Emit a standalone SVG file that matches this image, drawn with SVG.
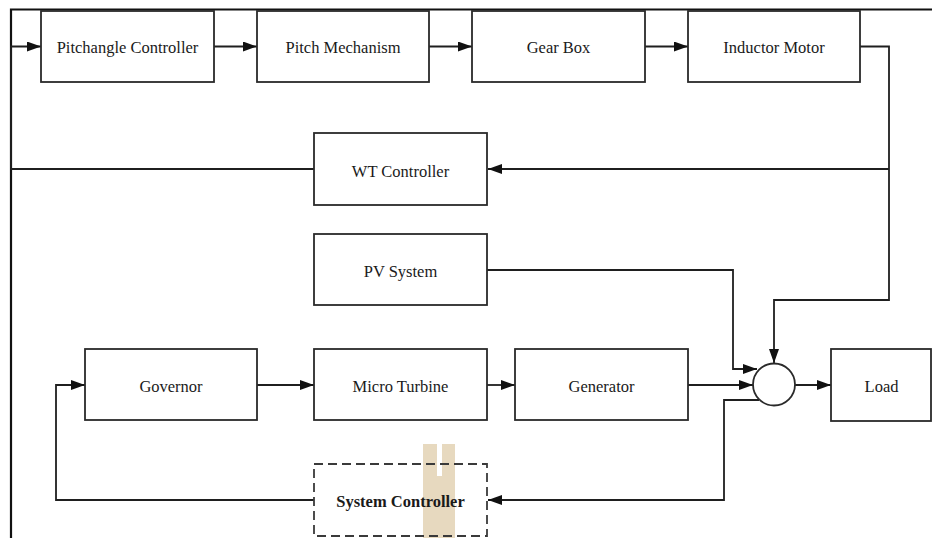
<svg xmlns="http://www.w3.org/2000/svg" width="932" height="538" viewBox="0 0 932 538">
  <style>
    .box { fill: #fff; stroke: #2a2a2a; stroke-width: 1.8; }
    .dash { fill: none; stroke: #3a3a3a; stroke-width: 1.8; stroke-dasharray: 9 5; }
    .lbl { font-family: "Liberation Serif", "Times New Roman", serif; font-size: 16.5px; fill: #1a1a1a; text-anchor: middle; }
    .bold { font-weight: bold; }
    .wire { fill: none; stroke: #1f1f1f; stroke-width: 1.8; }
    .frame { fill: none; stroke: #111; stroke-width: 2.2; }
  </style>
  <defs>
    <marker id="arrow" markerUnits="userSpaceOnUse" markerWidth="15" markerHeight="11" refX="14" refY="5" orient="auto">
      <path d="M0,0 L14,5 L0,10 Z" fill="#111"/>
    </marker>
  </defs>

  <rect width="932" height="538" fill="#fff"/>

  <!-- outer frame: top and left edges -->
  <path class="frame" d="M932,9.5 H11 V538"/>

  <!-- background stamp behind the system controller -->
  <g id="stamp" fill="#e7d9bf">
    <path d="M423,444 H437 V476 H442 V444 H455 V538 H423 Z"/>
  </g>

  <!-- connectors -->
  <g id="connectors">
    <path class="wire" d="M314,169 H11 V46.5 H41" marker-end="url(#arrow)"/>
    <path class="wire" d="M214,46.5 H257" marker-end="url(#arrow)"/>
    <path class="wire" d="M429,46.5 H472" marker-end="url(#arrow)"/>
    <path class="wire" d="M645,46.5 H688" marker-end="url(#arrow)"/>
    <path class="wire" d="M860,46.5 H889 V300 H774 V363" marker-end="url(#arrow)"/>
    <path class="wire" d="M889,169 H488" marker-end="url(#arrow)"/>
    <path class="wire" d="M487,270 H733 V369 H757" marker-end="url(#arrow)"/>
    <path class="wire" d="M257,385 H314" marker-end="url(#arrow)"/>
    <path class="wire" d="M487,385 H515" marker-end="url(#arrow)"/>
    <path class="wire" d="M688,385 H753" marker-end="url(#arrow)"/>
    <path class="wire" d="M795,385 H831" marker-end="url(#arrow)"/>
    <path class="wire" d="M759,400 H724 V500 H488" marker-end="url(#arrow)"/>
    <path class="wire" d="M314,500 H56 V385 H85" marker-end="url(#arrow)"/>
  </g>

  <g id="pitchangle-controller">
    <rect class="box" x="41" y="11" width="173" height="71"/>
    <text class="lbl" x="127.5" y="53">Pitchangle Controller</text>
  </g>
  <g id="pitch-mechanism">
    <rect class="box" x="257" y="11" width="172" height="71"/>
    <text class="lbl" x="343" y="53">Pitch Mechanism</text>
  </g>
  <g id="gear-box">
    <rect class="box" x="472" y="11" width="173" height="71"/>
    <text class="lbl" x="558.5" y="53">Gear Box</text>
  </g>
  <g id="inductor-motor">
    <rect class="box" x="688" y="11" width="172" height="71"/>
    <text class="lbl" x="774" y="53">Inductor Motor</text>
  </g>
  <g id="wt-controller">
    <rect class="box" x="314" y="133" width="173" height="72"/>
    <text class="lbl" x="400.5" y="177">WT Controller</text>
  </g>
  <g id="pv-system">
    <rect class="box" x="314" y="234" width="173" height="71"/>
    <text class="lbl" x="400.5" y="277">PV System</text>
  </g>
  <g id="governor">
    <rect class="box" x="85" y="349" width="172" height="71"/>
    <text class="lbl" x="171" y="392">Governor</text>
  </g>
  <g id="micro-turbine">
    <rect class="box" x="314" y="349" width="173" height="71"/>
    <text class="lbl" x="400.5" y="392">Micro Turbine</text>
  </g>
  <g id="generator">
    <rect class="box" x="515" y="349" width="173" height="71"/>
    <text class="lbl" x="601.5" y="392">Generator</text>
  </g>
  <g id="summing-junction">
    <circle class="box" cx="774" cy="384.5" r="21"/>
  </g>
  <g id="load">
    <rect class="box" x="831" y="349" width="100" height="72"/>
    <text class="lbl" x="881.5" y="392">Load</text>
  </g>
  <g id="system-controller">
    <rect class="dash" x="314" y="464" width="173" height="72"/>
    <text class="lbl bold" x="400.5" y="507">System Controller</text>
  </g>
</svg>
